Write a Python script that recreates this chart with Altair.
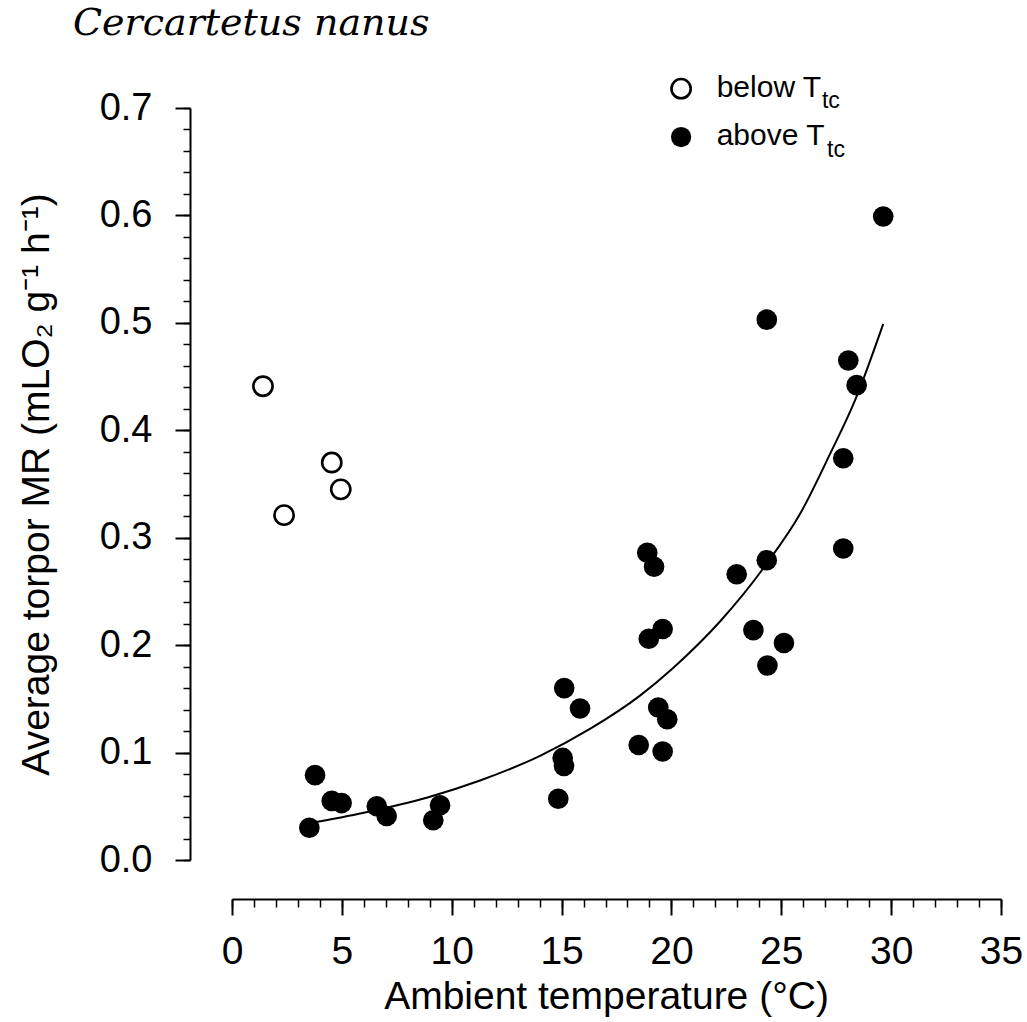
import altair as alt
import pandas as pd

# ---- data ----
below_x = [1.41, 2.37, 4.54, 4.95]
below_y = [0.441, 0.321, 0.370, 0.345]

above_x = [3.52, 3.78, 4.54, 4.99, 6.59, 7.04, 9.16, 9.47, 14.85, 15.05, 15.11,
           15.12, 15.84, 18.51, 18.90, 18.97, 19.21, 19.40, 19.60, 19.60, 19.81,
           22.97, 23.73, 24.34, 24.34, 24.37, 25.12, 27.82, 27.82, 28.05, 28.43, 29.64]
above_y = [0.030, 0.079, 0.055, 0.053, 0.050, 0.041, 0.037, 0.051, 0.057, 0.095, 0.0875,
           0.160, 0.141, 0.107, 0.286, 0.206, 0.273, 0.142, 0.215, 0.101, 0.131,
           0.266, 0.214, 0.279, 0.503, 0.181, 0.202, 0.374, 0.290, 0.465, 0.442, 0.599]

fit_x = [3.5, 6.0, 8.86, 11.29, 14.02, 16.29, 18.57, 20.09, 22.21, 24.34, 25.85, 27.22, 28.36, 29.64]
fit_y = [0.034, 0.044, 0.058, 0.074, 0.097, 0.122, 0.153, 0.179, 0.222, 0.276, 0.322, 0.378, 0.428, 0.499]

x_major_ticks = [0, 5, 10, 15, 20, 25, 30, 35]
x_minor_ticks = list(range(0, 36))
y_major_ticks = [0.0, 0.1, 0.2, 0.3, 0.4, 0.5, 0.6, 0.7]
y_minor_ticks = [round(i * 0.02, 2) for i in range(36)]

legend_labels = ["below T", "above T"]
legend_subs = ["tc", "tc"]
legend_filled = [False, True]
legend_sym_x = [20.44, 20.44]
legend_sym_y = [0.718, 0.673]
legend_txt_x = [22.06, 22.06]
legend_txt_y = [0.7106, 0.6655]
legend_sub_x = [26.85, 27.08]
legend_sub_y = [0.6997, 0.6547]

title_text = "Cercartetus nanus"
x_title = "Ambient temperature (°C)"
y_title = "Average torpor MR (mLO₂ g⁻¹ h⁻¹)"

# ---- tables ----
df_below = pd.DataFrame({"x": below_x, "y": below_y})
df_above = pd.DataFrame({"x": above_x, "y": above_y})
df_fit = pd.DataFrame({"x": fit_x, "y": fit_y})
df_leg = pd.DataFrame({
    "label": legend_labels, "sub": legend_subs, "filled": legend_filled,
    "sx": legend_sym_x, "sy": legend_sym_y,
    "tx": legend_txt_x, "ty": legend_txt_y,
    "ux": legend_sub_x, "uy": legend_sub_y,
})

FONT = "Liberation Sans"
xscale = alt.Scale(domain=[0, 35], nice=False, zero=False)
yscale = alt.Scale(domain=[0, 0.7], nice=False, zero=False)

x_major = alt.Axis(values=x_major_ticks, format="d", orient="bottom", offset=39,
                   tickSize=16, tickWidth=2, tickColor="black",
                   domainWidth=2, domainColor="black", grid=False,
                   labelFont=FONT, labelFontSize=39, labelColor="black",
                   labelPadding=17, labelFlush=False, labelOverlap=False,
                   titleFont=FONT, titleFontSize=39, titleFontWeight="normal",
                   titleColor="black", titlePadding=6, titleX=374)
y_major = alt.Axis(values=y_major_ticks, format=".1f", orient="left", offset=42,
                   tickSize=15, tickWidth=2, tickColor="black",
                   domainWidth=2, domainColor="black", grid=False,
                   labelFont=FONT, labelFontSize=38, labelColor="black",
                   labelPadding=23, labelFlush=False, labelOverlap=False,
                   titleFont=FONT, titleFontSize=39, titleFontWeight="normal",
                   titleColor="black", titlePadding=43)
x_minor = alt.Axis(values=x_minor_ticks, orient="bottom", offset=39, tickSize=8,
                   tickWidth=1.5, tickColor="black", labels=False, domain=False,
                   grid=False)
y_minor = alt.Axis(values=y_minor_ticks, orient="left", offset=42, tickSize=7,
                   tickWidth=1.5, tickColor="black", labels=False, domain=False,
                   grid=False)

fit_line = alt.Chart(df_fit).mark_line(color="black", strokeWidth=2,
                                       interpolate="monotone").encode(
    x=alt.X("x:Q", scale=xscale, axis=x_minor, title=None),
    y=alt.Y("y:Q", scale=yscale, axis=y_minor, title=None),
)

above_pts = alt.Chart(df_above).mark_circle(color="black", opacity=1, size=426).encode(
    x=alt.X("x:Q", scale=xscale, axis=x_major, title=x_title),
    y=alt.Y("y:Q", scale=yscale, axis=y_major, title=y_title),
)

below_pts = alt.Chart(df_below).mark_point(shape="circle", filled=False, color="black",
                                           strokeWidth=2.6, size=370, opacity=1).encode(
    x=alt.X("x:Q", scale=xscale, axis=None),
    y=alt.Y("y:Q", scale=yscale, axis=None),
)

leg_open = alt.Chart(df_leg).transform_filter("!datum.filled").mark_point(
    shape="circle", filled=False, color="black", strokeWidth=2.6, size=370, opacity=1
).encode(
    x=alt.X("sx:Q", scale=xscale, axis=None),
    y=alt.Y("sy:Q", scale=yscale, axis=None),
)
leg_fill = alt.Chart(df_leg).transform_filter("datum.filled").mark_circle(
    color="black", opacity=1, size=410
).encode(
    x=alt.X("sx:Q", scale=xscale, axis=None),
    y=alt.Y("sy:Q", scale=yscale, axis=None),
)
leg_text = alt.Chart(df_leg).mark_text(font=FONT, fontSize=30, align="left",
                                       baseline="alphabetic", color="black").encode(
    x=alt.X("tx:Q", scale=xscale, axis=None),
    y=alt.Y("ty:Q", scale=yscale, axis=None),
    text="label:N",
)
leg_sub = alt.Chart(df_leg).mark_text(font=FONT, fontSize=23, align="left",
                                      baseline="alphabetic", color="black").encode(
    x=alt.X("ux:Q", scale=xscale, axis=None),
    y=alt.Y("uy:Q", scale=yscale, axis=None),
    text="sub:N",
)

title_mark = alt.Chart(pd.DataFrame({"t": [title_text]})).mark_text(
    font="DejaVu Serif", fontStyle="italic", fontSize=38, align="left",
    baseline="alphabetic", color="black"
).encode(
    x=alt.value(-159),
    y=alt.value(-73),
    text="t:N",
)

chart = alt.layer(
    fit_line, above_pts, below_pts, leg_open, leg_fill, leg_text, leg_sub, title_mark
).resolve_axis(x="independent", y="independent").properties(
    width=769, height=752,
    padding={"left": 232, "top": 108, "right": 26, "bottom": 162},
    autosize=alt.AutoSizeParams(type="none"),
    background="white",
).configure_view(strokeWidth=0, stroke="transparent")

chart.save("out.html", embed_options={"renderer": "svg", "actions": False})
